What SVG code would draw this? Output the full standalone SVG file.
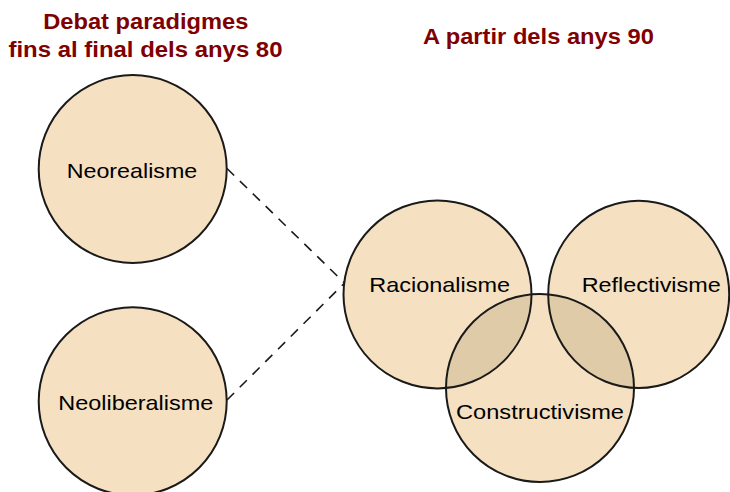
<svg xmlns="http://www.w3.org/2000/svg" width="730" height="492" viewBox="0 0 730 492">
<style>
.title{font-family:"Liberation Sans",Arial,sans-serif;font-weight:bold;font-size:22px;fill:#800000;text-anchor:middle}
.lbl{font-family:"Liberation Sans",Arial,sans-serif;font-size:21px;fill:#000;text-anchor:middle}
.fill{fill:#F5E1C1;stroke:none}
.lens{fill:#DFCBA8;stroke:none}
.ring{fill:none;stroke:#1a1a1a;stroke-width:2}
.dash{fill:none;stroke:#1a1a1a;stroke-width:1.6;stroke-dasharray:10 8}
</style>
<defs>
<clipPath id="clipC"><circle cx="540" cy="388" r="94"/></clipPath>
</defs>
<rect width="730" height="492" fill="#fff"/>
<text class="title" x="145.8" y="29.3" textLength="205" lengthAdjust="spacingAndGlyphs">Debat paradigmes</text>
<text class="title" x="145.5" y="56.7" textLength="274" lengthAdjust="spacingAndGlyphs">fins al final dels anys 80</text>
<text class="title" x="538.4" y="44" textLength="231" lengthAdjust="spacingAndGlyphs">A partir dels anys 90</text>
<g id="connectors">
<line class="dash" x1="227" y1="168.5" x2="344" y2="282.5"/>
<line class="dash" x1="227" y1="400" x2="344" y2="283.5"/>
</g>
<g id="neorealisme">
<circle class="fill" cx="132.7" cy="169" r="94"/>
<circle class="ring" cx="132.7" cy="169" r="94"/>
<text class="lbl" x="132" y="178.3" textLength="130.6" lengthAdjust="spacingAndGlyphs">Neorealisme</text>
</g>
<g id="neoliberalisme">
<circle class="fill" cx="132.7" cy="401.3" r="94"/>
<circle class="ring" cx="132.7" cy="401.3" r="94"/>
<text class="lbl" x="135.8" y="410" textLength="155" lengthAdjust="spacingAndGlyphs">Neoliberalisme</text>
</g>
<g id="racionalisme">
<circle class="fill" cx="437.5" cy="294.4" r="94"/>
</g>
<g id="reflectivisme">
<ellipse class="fill" cx="638.7" cy="294.4" rx="90.5" ry="93.7"/>
</g>
<g id="constructivisme">
<circle class="fill" cx="540" cy="388" r="94"/>
</g>
<g id="overlaps" clip-path="url(#clipC)">
<circle class="lens" cx="437.5" cy="294.4" r="94"/>
<ellipse class="lens" cx="638.7" cy="294.4" rx="90.5" ry="93.7"/>
</g>
<g id="outlines">
<circle class="ring" cx="437.5" cy="294.4" r="94"/>
<ellipse class="ring" cx="638.7" cy="294.4" rx="90.5" ry="93.7"/>
<circle class="ring" cx="540" cy="388" r="94"/>
</g>
<g id="labels">
<text class="lbl" x="439.7" y="291.7" textLength="140.7" lengthAdjust="spacingAndGlyphs">Racionalisme</text>
<text class="lbl" x="651.2" y="291.7" textLength="139" lengthAdjust="spacingAndGlyphs">Reflectivisme</text>
<text class="lbl" x="540" y="419.3" textLength="168" lengthAdjust="spacingAndGlyphs">Constructivisme</text>
</g>
</svg>
